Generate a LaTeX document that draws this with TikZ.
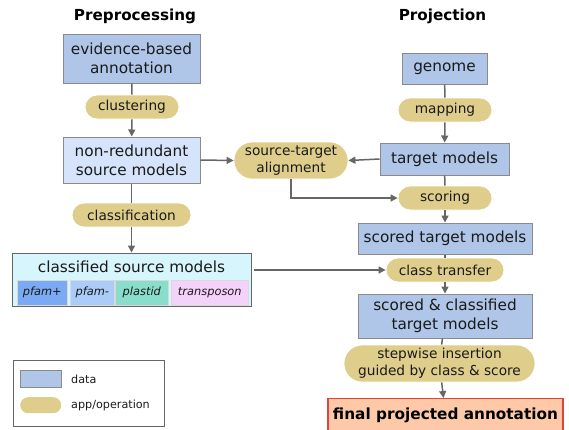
\documentclass[tikz,border=0pt]{standalone}
\usepackage{fontspec}
\setmainfont{DejaVu Sans}
\usetikzlibrary{arrows.meta}
\definecolor{datafill}{HTML}{AFC6E9}
\definecolor{datalight}{HTML}{D6E4FB}
\definecolor{databorder}{HTML}{8A8A8A}
\definecolor{opfill}{HTML}{DFCE8B}
\definecolor{clsfill}{HTML}{D7F5FC}
\definecolor{pfamplus}{HTML}{7BAAF5}
\definecolor{pfamminus}{HTML}{ABCBF9}
\definecolor{plastidc}{HTML}{88DECA}
\definecolor{transpc}{HTML}{F5D2FA}
\definecolor{finalfill}{HTML}{FDC9A9}
\definecolor{finalborder}{HTML}{E0443A}
\definecolor{linec}{HTML}{666666}
\definecolor{txt}{HTML}{1A1A1A}
\tikzset{
  x=1pt, y=-1pt,
  every node/.style={text=txt, inner sep=0pt},
  databox/.style={draw=databorder, line width=1pt, fill=datafill, align=center,
    font=\fontsize{15.3}{19}\selectfont},
  oppill/.style={fill=opfill, draw=white, line width=0.8pt, rounded corners=#1, align=center,
    font=\fontsize{13.7}{17}\selectfont},
  oppill/.default=12pt,
  subbox/.style={draw=white!70!gray, line width=0.6pt, font=\fontsize{11.4}{13}\selectfont\itshape,
    minimum height=25pt, anchor=north west},
  heading/.style={font=\fontsize{15.2}{18}\selectfont\bfseries, text=black},
  conn/.style={draw=linec, line width=1.5pt},
  arr/.style={conn, -{Triangle[length=7pt,width=7pt]}},
  legtext/.style={font=\fontsize{11.2}{13}\selectfont, anchor=west}
}
\begin{document}
\begin{tikzpicture}
\useasboundingbox (0,0) rectangle (569,429);
\clip (0,0) rectangle (569,429);
% headings
\node[heading] (hpre) at (135,16) {Preprocessing};
\node[heading] (hproj) at (442.5,16) {Projection};
% left column
\node[databox, minimum width=137pt, minimum height=49pt] (evid) at (131.5,58.5) {evidence-based\\annotation};
\node[oppill, minimum width=94pt, minimum height=24pt] (clust) at (132,107) {clustering};
\node[databox, fill=datalight, minimum width=137pt, minimum height=46pt] (nonred) at (131.5,160) {non-redundant\\source models};
\node[oppill, minimum width=119pt, minimum height=24pt] (classif) at (131.5,215) {classification};
\node[draw=linec, line width=1pt, fill=clsfill, minimum width=239pt, minimum height=53pt] (classified) at (131.5,279.5) {};
\node[font=\fontsize{15.3}{19}\selectfont] (clstitle) at (131.5,266.5) {classified source models};
\node[subbox, fill=pfamplus, minimum width=50pt] (pfp) at (17,279.5) {pfam+};
\node[subbox, fill=pfamminus, minimum width=44pt] (pfm) at (70,279.5) {pfam-};
\node[subbox, fill=plastidc, minimum width=53pt] (pla) at (115,279.5) {plastid};
\node[subbox, fill=transpc, minimum width=77pt] (tra) at (171,279.5) {transposon};
% right column
\node[databox, minimum width=85pt, minimum height=31pt] (genome) at (444.5,68.5) {genome};
\node[oppill, minimum width=94pt, minimum height=24pt] (mapping) at (445,110) {mapping};
\node[databox, minimum width=129pt, minimum height=32pt] (target) at (444.5,159) {target models};
\node[oppill=18pt, minimum width=114pt, minimum height=37pt] (align) at (291,160.5) {source-target\\alignment};
\node[oppill, minimum width=94pt, minimum height=24pt] (scoring) at (445,198) {scoring};
\node[databox, minimum width=174pt, minimum height=31pt] (scored) at (445,238.5) {scored target models};
\node[oppill, minimum width=118pt, minimum height=24pt] (transfer) at (445,270) {class transfer};
\node[databox, minimum width=174pt, minimum height=44pt] (scl) at (445,316) {scored \& classified\\target models};
\node[oppill=18pt, minimum width=191pt, minimum height=37pt] (step) at (439.5,363.5) {stepwise insertion\\guided by class \& score};
\node[draw=finalborder, line width=1.2pt, fill=finalfill, minimum width=235pt, minimum height=34pt, anchor=north,
  font=\fontsize{15.3}{19}\selectfont\bfseries, text=black] (final) at (445.5,398) {\raisebox{1pt}{final projected annotation}};
% connectors left
\draw[conn] (evid) -- (clust);
\draw[arr] (clust) -- (nonred);
\draw[conn] (nonred) -- (classif);
\draw[arr] (classif) -- (classified);
\draw[arr] (nonred.east) -- (align.west);
% connectors right
\draw[conn] (genome) -- (mapping);
\draw[arr] (mapping) -- (target);
\draw[arr] (target.west) -- (align.east);
\draw[conn] (target) -- (scoring);
\draw[arr] (align.south) |- (scoring.west);
\draw[arr] (scoring) -- (scored);
\draw[conn] (scored) -- (transfer);
\draw[arr] ([xshift=2pt]classified.east |- transfer.west) -- (transfer.west);
\draw[arr] (transfer) -- (scl);
\draw[conn] (scl) -- (step);
\draw[arr] (step) -- (final);
% legend
\node[draw=linec, line width=1pt, minimum width=151pt, minimum height=66pt, anchor=north west] (legend) at (13,360) {};
\node[draw=databorder, line width=1pt, fill=datafill, minimum width=41pt, minimum height=17pt, anchor=north west] (legdata) at (20,370) {};
\node[fill=opfill, rounded corners=8pt, minimum width=41pt, minimum height=16pt, anchor=north west] (legop) at (20,397) {};
\node[legtext] (legdatat) at (71,379) {data};
\node[legtext] (legopt) at (71,405) {app/operation};
\end{tikzpicture}
\end{document}
